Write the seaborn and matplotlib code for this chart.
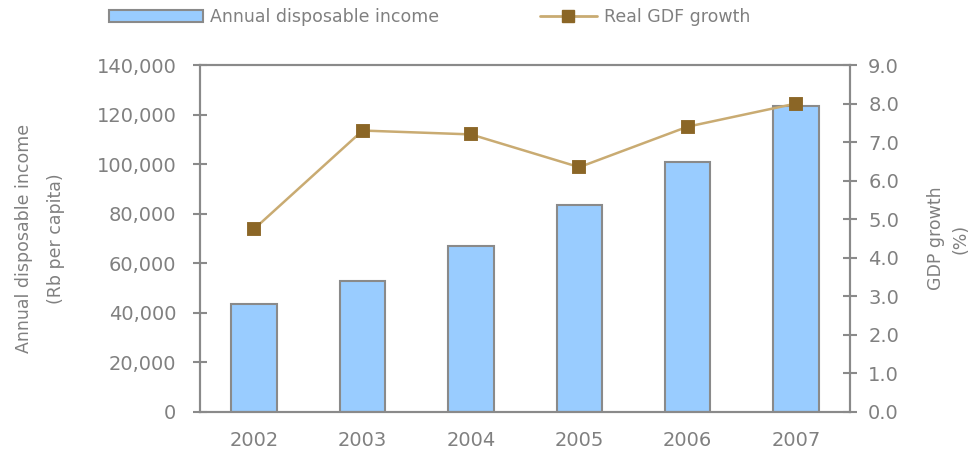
import matplotlib
matplotlib.use("Agg")
import matplotlib.pyplot as plt
import seaborn as sns
import pandas as pd
from matplotlib.patches import Patch
from matplotlib.lines import Line2D
from matplotlib.ticker import FuncFormatter, MultipleLocator

years = ["2002", "2003", "2004", "2005", "2006", "2007"]
income = [43500, 53000, 67000, 83500, 101000, 123500]
gdp_growth = [4.75, 7.3, 7.2, 6.35, 7.4, 8.0]

bar_label = "Annual disposable income"
line_label = "Real GDF growth"
left_ylabel = "Annual disposable income\n(Rb per capita)"
right_ylabel = "GDP growth\n(%)"

sns.set_theme(style="white")
plt.rcParams['font.family'] = ['DejaVu Sans']

grey = "#8a8a8a"
text_grey = "#808080"
bar_color = "#99CCFF"
line_color = "#C9AB72"
marker_color = "#8B6626"

df = pd.DataFrame({"year": years, "income": income, "gdp": gdp_growth})

fig = plt.figure(figsize=(9.76, 4.61), dpi=100)
ax = fig.add_axes([0.205, 0.1063, 0.666, 0.7527])

sns.barplot(data=df, x="year", y="income", ax=ax, color=bar_color,
            width=0.42, edgecolor=grey, linewidth=1.5, saturation=1)
ax.set_xlim(-0.5, 5.5)
ax.set_ylim(0, 140000)
ax.yaxis.set_major_locator(MultipleLocator(20000))
ax.yaxis.set_major_formatter(FuncFormatter(lambda v, p: f"{int(v):,}"))
ax.set_xlabel("")
ax.set_ylabel(left_ylabel, color=text_grey, fontsize=12.5, linespacing=2.0, labelpad=23)

# x ticks at category boundaries, labels at centres
ax.set_xticks([i + 0.5 for i in range(len(years) - 1)] + [-0.5, 5.5], minor=False)
ax.set_xticklabels([])
ax.set_xticks(range(len(years)), minor=True)
ax.set_xticklabels(years, minor=True)
ax.tick_params(axis="x", which="major", direction="inout", length=10, width=1.5, color=grey)
ax.tick_params(axis="x", which="minor", length=0, pad=14, labelsize=14, labelcolor=text_grey)
ax.tick_params(axis="y", direction="inout", length=10, width=1.5, color=grey,
               labelsize=14, labelcolor=text_grey, pad=12)

for s in ax.spines.values():
    s.set_color(grey)
    s.set_linewidth(1.5)

ax2 = ax.twinx()
sns.pointplot(data=df, x="year", y="gdp", ax=ax2, color=line_color,
              markers="s", linestyles="-", linewidth=1.8, markersize=9,
              markeredgecolor=marker_color, markerfacecolor=marker_color)
ax2.set_xlim(-0.5, 5.5)
ax2.set_ylim(0, 9)
ax2.yaxis.set_major_locator(MultipleLocator(1))
ax2.yaxis.set_major_formatter(FuncFormatter(lambda v, p: f"{v:.1f}"))
ax2.set_xlabel("")
ax2.set_ylabel(right_ylabel, color=text_grey, fontsize=12.5, linespacing=1.5, labelpad=20)
ax2.tick_params(axis="y", direction="inout", length=10, width=1.5, color=grey,
                labelsize=14, labelcolor=text_grey, pad=8)
for s in ax2.spines.values():
    s.set_color(grey)
    s.set_linewidth(1.5)

h1 = Patch(facecolor=bar_color, edgecolor=grey, linewidth=1.5)
leg1 = fig.legend([h1], [bar_label], loc="center left", bbox_to_anchor=(0.112, 0.963),
                  frameon=False, handlelength=5.4, handleheight=0.7, handletextpad=0.4,
                  fontsize=12.5, labelcolor=text_grey, borderaxespad=0, borderpad=0)
h2 = Line2D([], [], color=line_color, linewidth=2, marker="s", markersize=9,
            markerfacecolor=marker_color, markeredgecolor=marker_color)
leg2 = fig.legend([h2], [line_label], loc="center left", bbox_to_anchor=(0.553, 0.963),
                  frameon=False, handlelength=3.3, handletextpad=0.4,
                  fontsize=12.5, labelcolor=text_grey, borderaxespad=0, borderpad=0)

fig.savefig("out.png", dpi=100)
